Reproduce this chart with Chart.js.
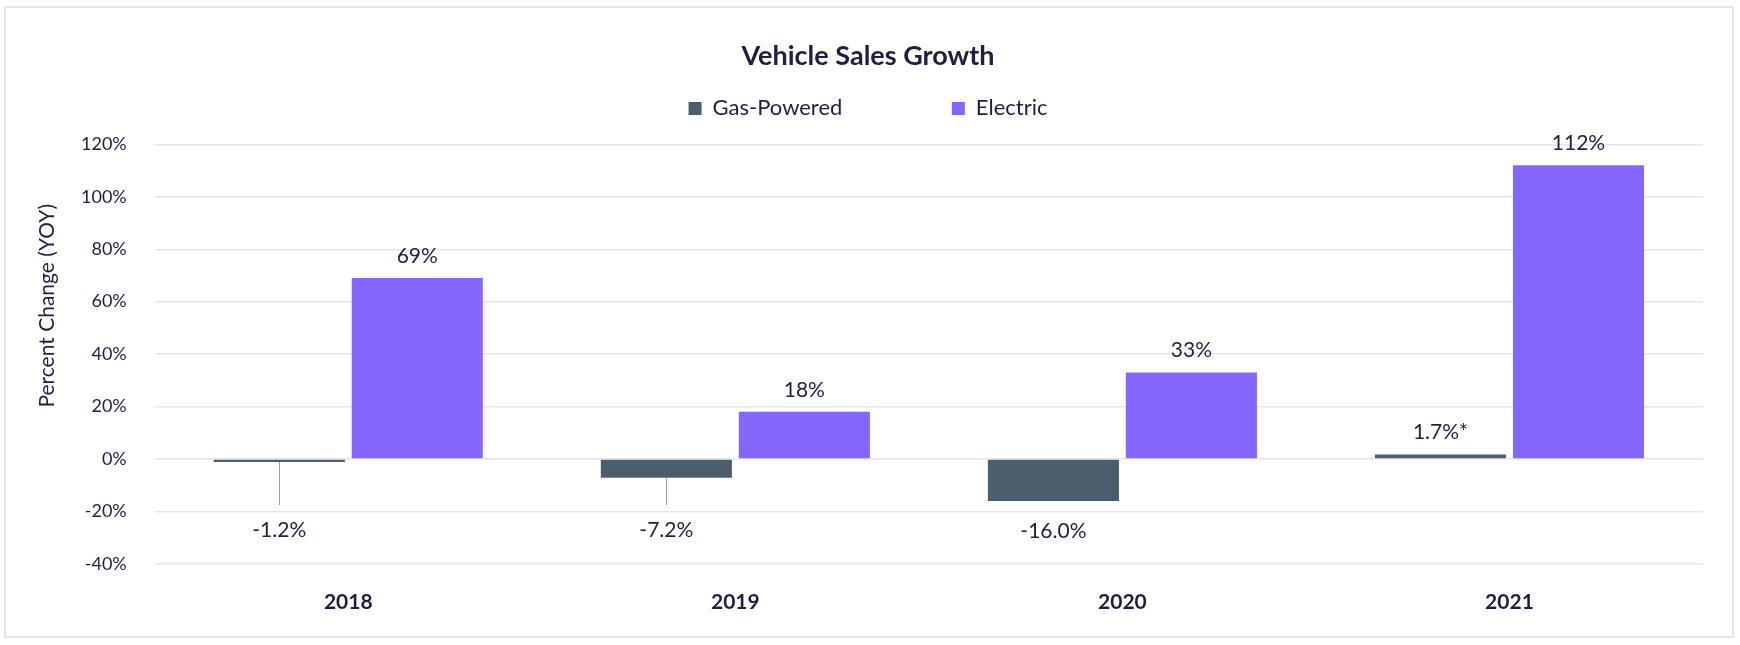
<!DOCTYPE html>
<html>
<head>
<meta charset="utf-8">
<script src="https://cdn.jsdelivr.net/npm/chart.js@4.4.1/dist/chart.umd.min.js"></script>
<style>
  html, body { margin: 0; padding: 0; background: #ffffff; }
  #wrap { position: relative; width: 1740px; height: 645px; }
  #frame { position: absolute; left: 4px; top: 6px; width: 1730px; height: 632px;
           box-sizing: border-box; border: 2px solid #e4e4ec; }
  #c { position: absolute; left: 0; top: 0; }
</style>
</head>
<body>
<div id="wrap">
  <div id="frame"></div>
  <canvas id="c" width="1740" height="645"></canvas>
</div>
<script>
// ---- data ----
const categories = ['2018', '2019', '2020', '2021'];
const gasValues = [-1.2, -7.2, -16.0, 1.7];
const electricValues = [69, 18, 33, 112];
const gasLabels = ['-1.2%', '-7.2%', '-16.0%', '1.7%*'];
const electricLabels = ['69%', '18%', '33%', '112%'];
const seriesNames = ['Gas-Powered', 'Electric'];
const yAxisTitle = 'Percent Change (YOY)';
const yMin = -40, yMax = 120, yStep = 20;

const TEXT = '#1f1f45';
const GAS = '#4b5e6d';
const ELEC = '#8566ff';
const GRID = '#e4e5ec';

const valueLabelPlugin = {
  id: 'valueLabels',
  afterDatasetsDraw(chart) {
    const ctx = chart.ctx;
    const yScale = chart.scales.y;
    chart.data.datasets.forEach((ds, di) => {
      const meta = chart.getDatasetMeta(di);
      meta.data.forEach((bar, i) => {
        const v = ds.data[i];
        const text = ds.valueLabels[i];
        const p = bar.getProps(['x', 'y', 'base'], true);
        ctx.save();
        ctx.font = '21px Lato';
        ctx.fillStyle = TEXT;
        ctx.textAlign = 'center';
        ctx.textBaseline = 'middle';
        if (v >= 0) {
          ctx.fillText(text, p.x, p.y - 22);
        } else {
          const bottom = p.y;
          const ly = Math.max(yScale.getPixelForValue(0) + 71, bottom + 30);
          const lineEnd = ly - 25;
          if (lineEnd - bottom > 8) {
            ctx.strokeStyle = '#9a9aa0';
            ctx.lineWidth = 1;
            ctx.beginPath();
            ctx.moveTo(Math.round(p.x) + 0.5, bottom);
            ctx.lineTo(Math.round(p.x) + 0.5, lineEnd);
            ctx.stroke();
          }
          ctx.fillText(text, p.x, ly);
        }
        ctx.restore();
      });
    });
  }
};

function build() {
  Chart.defaults.font.family = 'Lato, "Open Sans", sans-serif';
  Chart.defaults.color = TEXT;
  new Chart(document.getElementById('c'), {
    type: 'bar',
    data: {
      labels: categories,
      datasets: [
        { label: seriesNames[0], data: gasValues, valueLabels: gasLabels,
          backgroundColor: GAS, borderWidth: 0,
          categoryPercentage: 0.713, barPercentage: 0.95 },
        { label: seriesNames[1], data: electricValues, valueLabels: electricLabels,
          backgroundColor: ELEC, borderWidth: 0,
          categoryPercentage: 0.713, barPercentage: 0.95 }
      ]
    },
    options: {
      responsive: false,
      animation: false,
      layout: { padding: { top: 10, left: 33, right: 37, bottom: 4 } },
      plugins: {
        title: {
          display: true, text: 'Vehicle Sales Growth', color: TEXT,
          font: { size: 27, weight: 'bold' },
          padding: { top: 30, bottom: 0 }
        },
        subtitle: {
          // empty spacer between legend and plot area
          display: true, text: '', position: 'top', weight: 500,
          font: { size: 10, lineHeight: 1 }, padding: { top: 5, bottom: 0 }
        },
        legend: {
          position: 'top',
          labels: {
            color: TEXT, boxWidth: 13, boxHeight: 13, padding: 25,
            font: { size: 22 },
            generateLabels(chart) {
              const items = Chart.defaults.plugins.legend.labels.generateLabels(chart);
              if (items.length) items[0].text = items[0].text + ' '.repeat(15);
              return items;
            }
          }
        },
        tooltip: { enabled: false }
      },
      scales: {
        x: {
          grid: { display: false, drawTicks: false },
          border: { display: false },
          ticks: { color: TEXT, font: { size: 21, weight: 'bold' }, padding: 26 }
        },
        y: {
          min: yMin, max: yMax,
          grid: { color: GRID, lineWidth: 1.5, drawTicks: false },
          border: { display: false },
          ticks: { stepSize: yStep, color: TEXT, font: { size: 18 }, padding: 28,
                   callback: v => v + '%' },
          title: { display: true, text: ' '.repeat(18) + yAxisTitle, color: TEXT,
                   font: { size: 21, lineHeight: 1 }, padding: { top: 4, bottom: -5 } }
        }
      }
    },
    plugins: [valueLabelPlugin]
  });
}

if (document.fonts && document.fonts.load) {
  Promise.all([
    document.fonts.load('22px Lato'),
    document.fonts.load('bold 22px Lato')
  ]).then(build, build);
} else {
  build();
}
</script>
</body>
</html>
